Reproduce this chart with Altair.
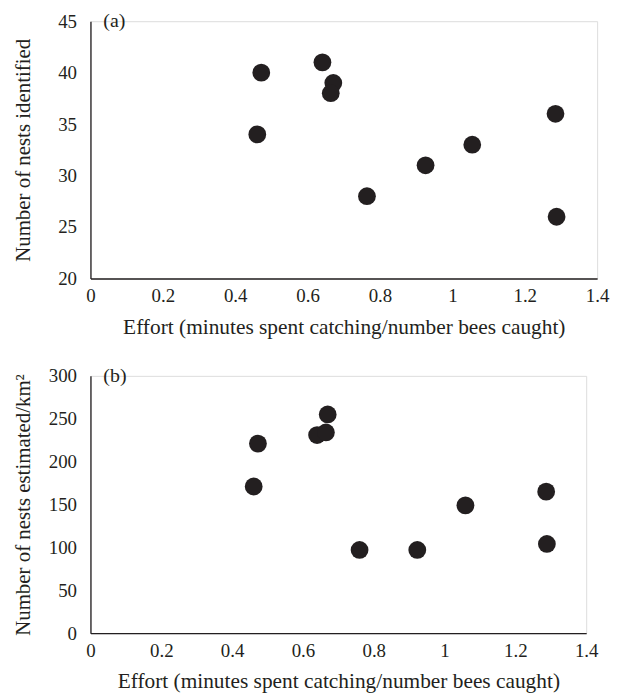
import altair as alt
import pandas as pd

effort_a = [0.461, 0.472, 0.641, 0.671, 0.664, 0.764, 0.926, 1.055, 1.285, 1.288]
nests_identified = [34, 40, 41, 39, 38, 28, 31, 33, 36, 26]

effort_b = [0.461, 0.473, 0.640, 0.665, 0.670, 0.760, 0.923, 1.059, 1.287, 1.289]
nests_per_km2 = [171, 221, 231, 234, 255, 97, 97, 149, 165, 104]

x_ticks = [0, 0.2, 0.4, 0.6, 0.8, 1.0, 1.2, 1.4]
ya_ticks = [20, 25, 30, 35, 40, 45]
yb_ticks = [0, 50, 100, 150, 200, 250, 300]

x_title = "Effort (minutes spent catching/number bees caught)"
ya_title = "Number of nests identified"
yb_title = "Number of nests estimated/km²"

df_a = pd.DataFrame({"effort": effort_a, "nests": nests_identified})
df_b = pd.DataFrame({"effort": effort_b, "nests": nests_per_km2})

FONT = "Liberation Serif"
INK = "#231f20"
H = 259


def axis_x():
    return alt.Axis(values=x_ticks, format=".1~f", ticks=False, grid=False,
                    domainColor=INK, domainWidth=1.3, labelFont=FONT,
                    labelFontSize=19, labelColor=INK, labelPadding=8,
                    titleFont=FONT, titleFontSize=21.5, titleFontWeight="normal",
                    titleColor=INK, titlePadding=11, labelFlush=False)


def axis_y(vals, h):
    return alt.Axis(values=vals, ticks=False, grid=False, domainColor=INK,
                    domainWidth=1.3, labelFont=FONT, labelFontSize=19,
                    labelColor=INK, labelPadding=14, titleFont=FONT,
                    titleFontSize=21, titleFontWeight="normal", titleColor=INK,
                    titleX=-67, titleY=h / 2, titleAngle=270,
                    titleAlign="center", titleBaseline="middle",
                    labelFlush=False)


def panel(df, ylo, yhi, yvals, ytitle, tag, w):
    pts = alt.Chart(df).mark_circle(size=320, color=INK, opacity=1).encode(
        x=alt.X("effort:Q", scale=alt.Scale(domain=[0, 1.4], nice=False),
                axis=axis_x(), title=x_title),
        y=alt.Y("nests:Q", scale=alt.Scale(domain=[ylo, yhi], nice=False, zero=False),
                axis=axis_y(yvals, H), title=ytitle),
    )
    lab = alt.Chart(pd.DataFrame({"t": [tag]})).mark_text(
        font=FONT, fontSize=20, color=INK, align="left", baseline="middle"
    ).encode(text="t:N", x=alt.value(13), y=alt.value(0))
    return alt.layer(pts, lab).properties(width=w, height=H)


top = panel(df_a, 20, 45, ya_ticks, ya_title, "(a)", 510)
bottom = panel(df_b, 0, 300, yb_ticks, yb_title, "(b)", 499)

chart = alt.vconcat(top, bottom, spacing=27).properties(
    padding={"left": 4, "top": 0, "right": 5, "bottom": 5}
).configure_view(stroke=None).configure(background="white")

chart.save("out.html", embed_options={"renderer": "svg", "actions": False})
